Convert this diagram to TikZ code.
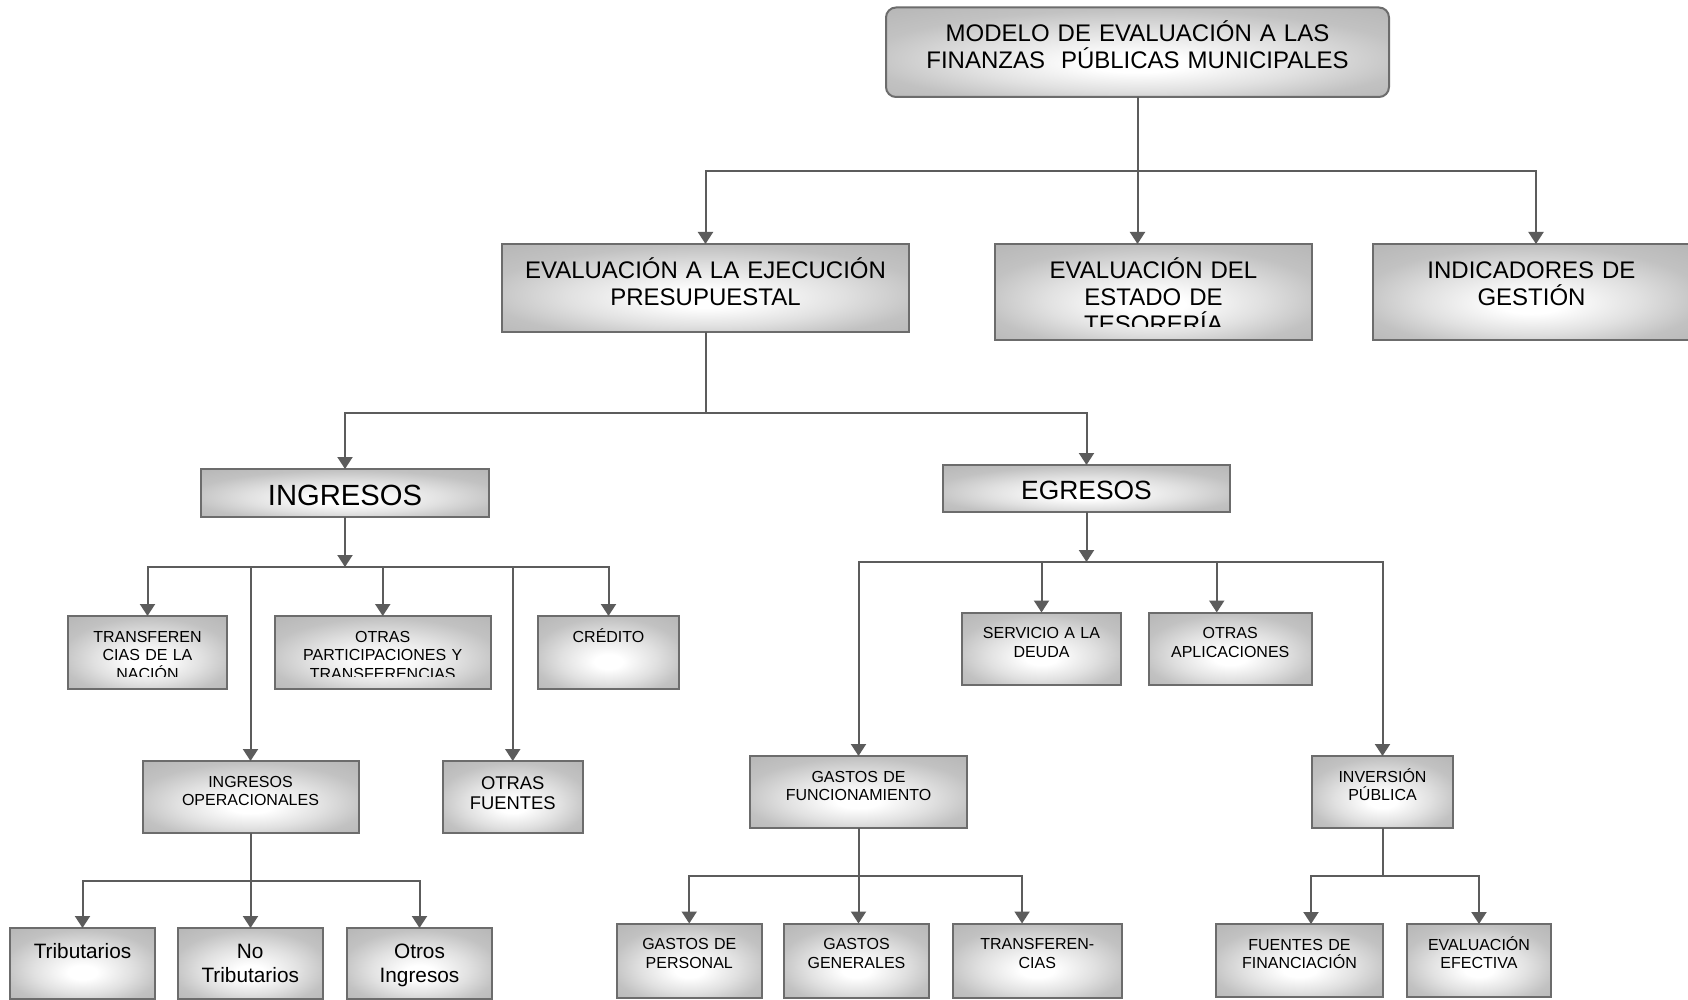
\documentclass[tikz,border=0pt]{standalone}
\usepackage{fontspec}
\setmainfont{Liberation Sans}
\usetikzlibrary{arrows.meta}

\definecolor{linkgray}{HTML}{5C5C5C}
\definecolor{edgegray}{HTML}{6C6C6C}

% soft glow: white towards the lower middle, grey towards the rim
\pgfdeclareradialshading{boxglow}{\pgfpoint{0bp}{-7bp}}{%
  color(0bp)=(white); color(5bp)=(white); color(17bp)=(black!12);
  color(27bp)=(black!24); color(38bp)=(black!29); color(50bp)=(black!31)}

\tikzset{
  box/.style={draw=edgegray, line width=1pt, shading=boxglow, inner sep=0pt, outer sep=0pt},
  boxtext/.style={anchor=base, inner sep=0pt, align=center},
  headtext/.style={boxtext, font=\fontsize{12}{13.3}\selectfont, yshift=-17.1pt},
  midtext/.style={boxtext, font=\fontsize{12}{13.4}\selectfont, yshift=-17.5pt},
  ingtext/.style={boxtext, font=\fontsize{14.6}{16}\selectfont, yshift=-18.2pt},
  egrtext/.style={boxtext, font=\fontsize{13.2}{15}\selectfont, yshift=-17.2pt},
  smalltext/.style={boxtext, font=\fontsize{8}{9.25}\selectfont, yshift=-13.2pt},
  fuentetext/.style={boxtext, font=\fontsize{9.2}{10.25}\selectfont, yshift=-14pt},
  lowtext/.style={boxtext, font=\fontsize{10.4}{12.4}\selectfont, yshift=-15pt},
  link/.style={draw=linkgray, line width=1pt},
  arrowlink/.style={link, -{Triangle[width=7.5pt,length=6pt]}},
}

\newcommand\textcut{5pt}
% \panel[box options]{name}{left}{top}{right}{bottom}{text style}{text}
\newcommand\panel[8][]{%
  \node[box, #1, minimum width={(#5-#3)*0.5pt}, minimum height={(#6-#4)*0.5pt}]
    (#2) at ({(#3+#5)/2},{(#4+#6)/2}) {};
  \begin{scope}
    \clip (#3,#4) rectangle ([yshift=\textcut]#5,#6);
    \node[#7, text width={(#5-#3)*0.5pt-4pt}] (#2-label) at (#2.north) {#8};
  \end{scope}}

\begin{document}
\begin{tikzpicture}[x=0.5pt, y=-0.5pt]
\fill[white] (0,0) rectangle (1688,1000);
\useasboundingbox (0,0) rectangle (1688,1000);

% ---- boxes ----
\panel[rounded corners=5pt]{model}{886}{7.5}{1389}{97}{headtext}
  {MODELO DE EVALUACIÓN A LAS\\FINANZAS \ PÚBLICAS MUNICIPALES}

\panel{ejec}{502}{244}{909}{332}{midtext}{EVALUACIÓN A LA EJECUCIÓN\\PRESUPUESTAL}
\def\textcut{6.5pt}
\panel{tes}{995}{244}{1312}{340}{midtext}{EVALUACIÓN DEL\\ESTADO DE\\TESORERÍA}
\def\textcut{5pt}
\panel{ind}{1373}{244}{1690}{340}{midtext}{INDICADORES DE\\GESTIÓN}

\panel{ing}{201}{469}{489}{517}{ingtext}{INGRESOS}
\panel{egr}{943}{465}{1230}{512}{egrtext}{EGRESOS}

\def\textcut{6.5pt}
\panel{tnac}{68}{616}{227}{689}{smalltext}{TRANSFEREN\\CIAS DE LA\\NACIÓN}
\panel{opart}{274.5}{616}{491}{689}{smalltext}{OTRAS\\PARTICIPACIONES Y\\TRANSFERENCIAS}
\def\textcut{5pt}
\panel{cred}{538}{616}{679}{689}{smalltext}{CRÉDITO}
\panel{iop}{142.5}{761}{358.5}{833}{smalltext}{INGRESOS\\OPERACIONALES}
\panel{ofu}{442.5}{761}{583}{833}{fuentetext}{OTRAS\\FUENTES}

\panel{trib}{10}{928}{155}{999}{lowtext}{Tributarios}
\panel{notrib}{178}{928}{322.5}{999}{lowtext}{No\\Tributarios}
\panel{otros}{347}{928}{492}{999}{lowtext}{Otros\\Ingresos}

\panel{serv}{962}{612.5}{1121}{685}{smalltext}{SERVICIO A LA\\DEUDA}
\panel{oapl}{1148.5}{612.5}{1312}{685}{smalltext}{OTRAS\\APLICACIONES}
\panel{gfun}{750}{756}{967}{828}{smalltext}{GASTOS DE\\FUNCIONAMIENTO}
\panel{inv}{1312}{756}{1453}{828}{smalltext}{INVERSIÓN\\PÚBLICA}

\panel{gper}{617}{923.5}{761.5}{998}{smalltext}{GASTOS DE\\PERSONAL}
\panel{ggen}{784}{923.5}{929}{998}{smalltext}{GASTOS\\GENERALES}
\panel{gtra}{953}{923.5}{1121.5}{998}{smalltext}{TRANSFEREN-\\CIAS}
\panel{ffin}{1216}{924}{1383}{997}{smalltext}{FUENTES DE\\FINANCIACIÓN}
\panel{eefe}{1407}{924}{1551}{997}{smalltext}{EVALUACIÓN\\EFECTIVA}

% ---- junction points ----
\coordinate (j1) at (1137.5,171);
\coordinate (j2) at (705.5,413);
\coordinate (j3) at (345,567);
\coordinate (j4) at (250.5,880.5);
\coordinate (j5) at (1086.5,562);
\coordinate (j6) at (858.5,876);
\coordinate (j7) at (1382.5,876);
\coordinate (ind-in) at ([xshift=2.25pt]ind.north);
\coordinate (oapl-in) at ([xshift=-6.75pt]oapl.north);
\coordinate (gtra-in) at ([xshift=-7.6pt]gtra.north);
\coordinate (ffin-in) at ([xshift=5.75pt]ffin.north);

% ---- connectors ----
\draw[link] (model.south) -- (j1);
\draw[arrowlink] (j1) -| (ejec.north);
\draw[arrowlink] (j1) -- (j1 |- tes.north);
\draw[arrowlink] (j1) -| (ind-in);

\draw[link] (ejec.south) -- (j2);
\draw[arrowlink] (j2) -| (ing.north);
\draw[arrowlink] (j2) -| (egr.north);

\draw[arrowlink] (ing.south) -- (j3);
\draw[arrowlink] (j3) -| (tnac.north);
\draw[arrowlink] (j3) -| (cred.north);
\draw[arrowlink] (j3 -| opart.north) -- (opart.north);
\draw[arrowlink] (j3 -| iop.north) -- (iop.north);
\draw[arrowlink] (j3 -| ofu.north) -- (ofu.north);

\draw[link] (iop.south) -- (j4);
\draw[arrowlink] (j4) -| (trib.north);
\draw[arrowlink] (j4) -- (j4 |- notrib.north);
\draw[arrowlink] (j4) -| (otros.north);

\draw[arrowlink] (egr.south) -- (j5);
\draw[arrowlink] (j5) -| (gfun.north);
\draw[arrowlink] (j5) -| (inv.north);
\draw[arrowlink] (j5 -| serv.north) -- (serv.north);
\draw[arrowlink] (j5 -| oapl-in) -- (oapl-in);

\draw[link] (gfun.south) -- (j6);
\draw[arrowlink] (j6) -| (gper.north);
\draw[arrowlink] (j6) -- (j6 |- ggen.north);
\draw[arrowlink] (j6) -| (gtra-in);

\draw[link] (inv.south) -- (j7);
\draw[arrowlink] (j7) -| (ffin-in);
\draw[arrowlink] (j7) -| (eefe.north);
\end{tikzpicture}
\end{document}
